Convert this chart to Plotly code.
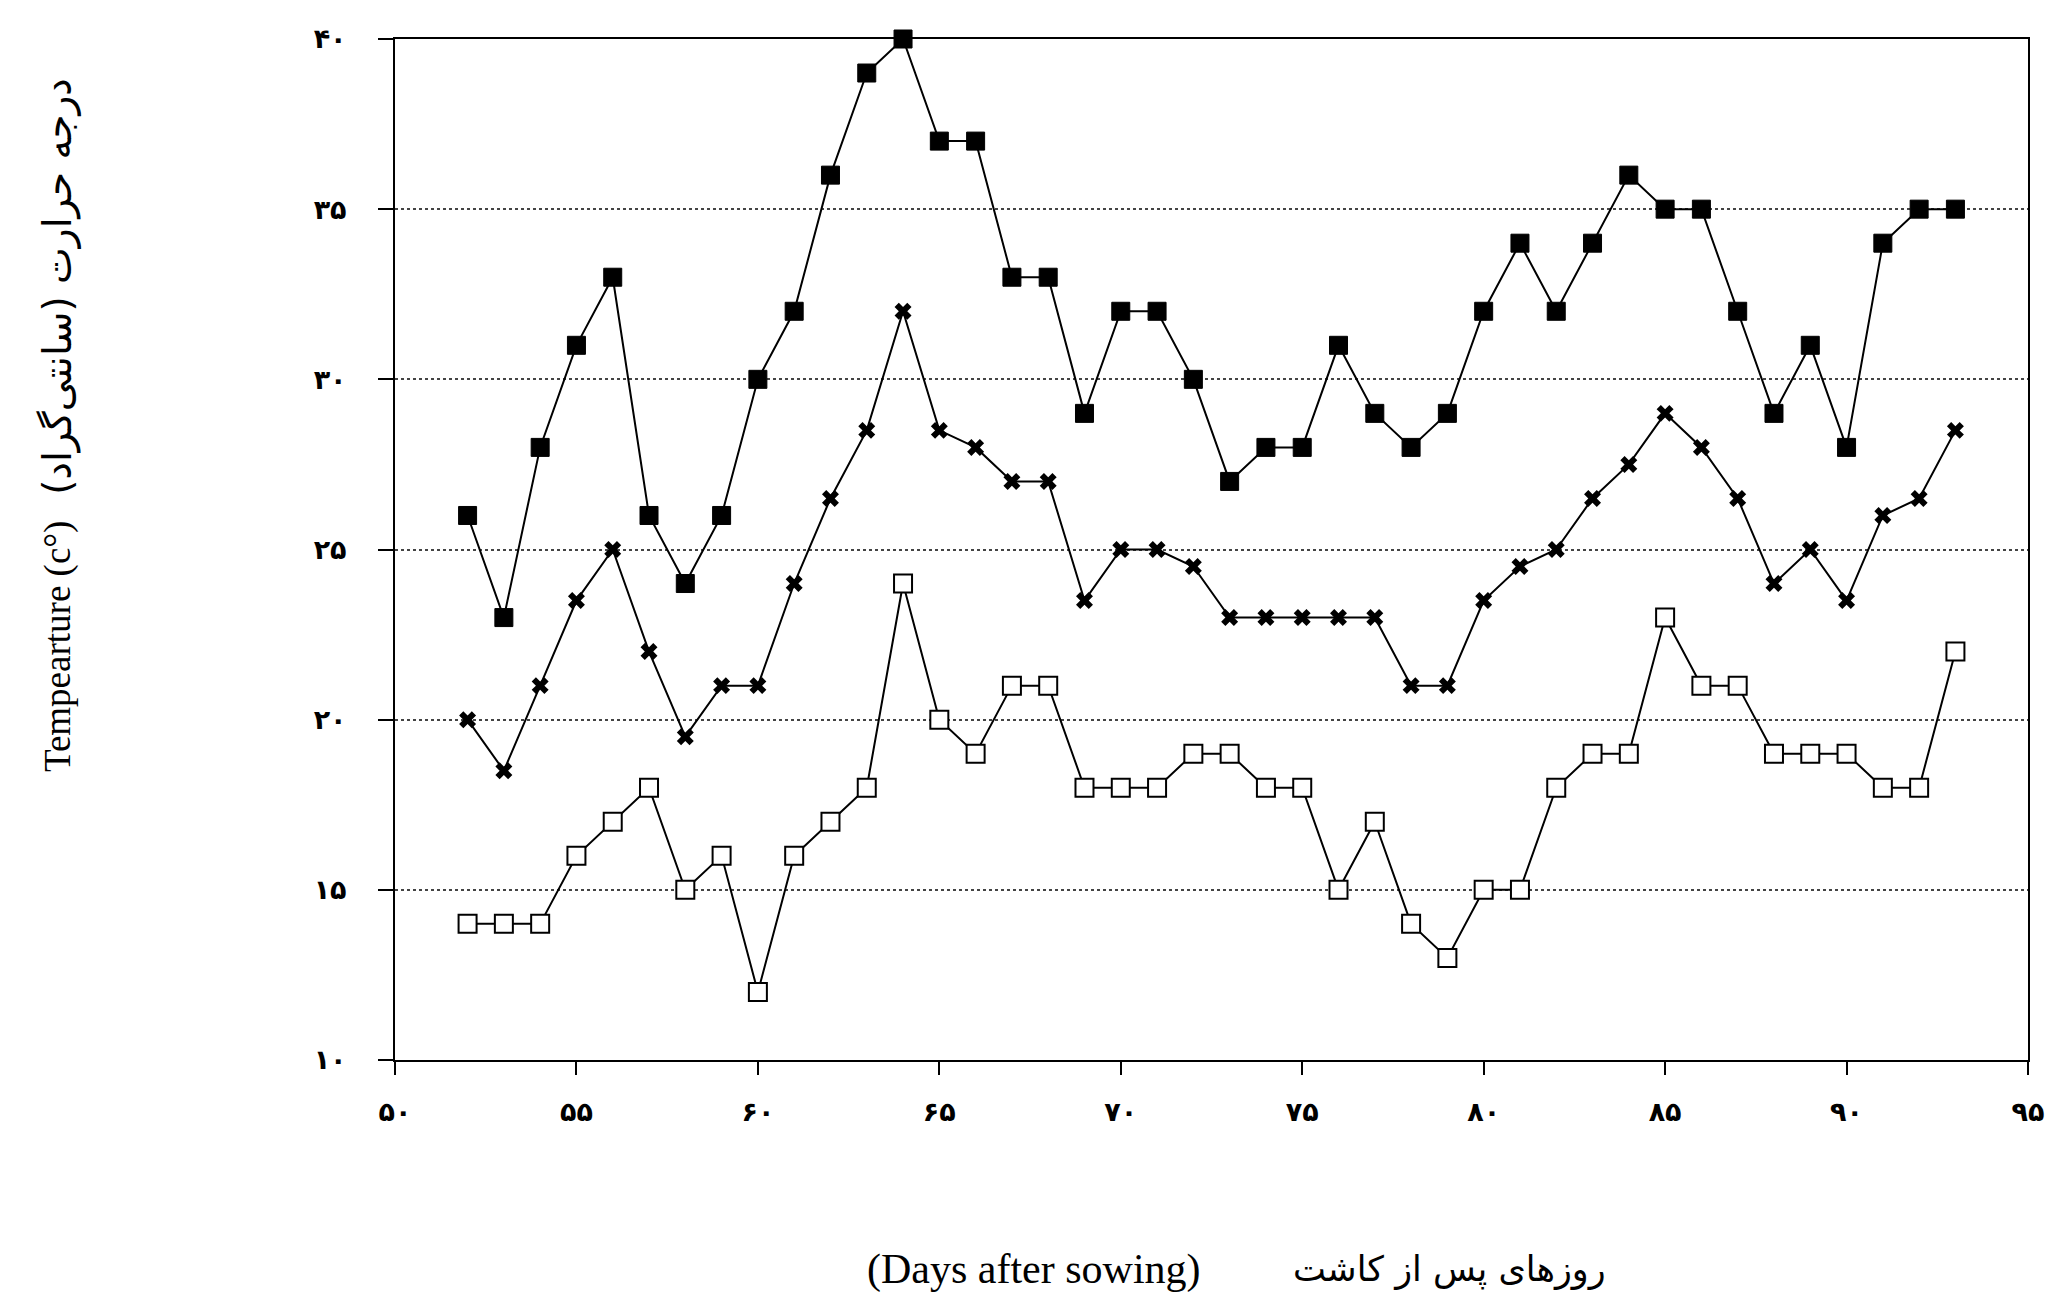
import plotly.graph_objects as go

days = list(range(52, 94))

t_max = [26, 23, 28, 31, 33, 26, 24, 26, 30, 32, 36, 39, 40, 37, 37, 33, 33, 29, 32, 32, 30,
         27, 28, 28, 31, 29, 28, 29, 32, 34, 32, 34, 36, 35, 35, 32, 29, 31, 28, 34, 35, 35]
t_mean = [20, 18.5, 21, 23.5, 25, 22, 19.5, 21, 21, 24, 26.5, 28.5, 32, 28.5, 28, 27, 27, 23.5, 25, 25, 24.5,
          23, 23, 23, 23, 23, 21, 21, 23.5, 24.5, 25, 26.5, 27.5, 29, 28, 26.5, 24, 25, 23.5, 26, 26.5, 28.5]
t_min = [14, 14, 14, 16, 17, 18, 15, 16, 12, 16, 17, 18, 24, 20, 19, 21, 21, 18, 18, 18, 19,
         19, 18, 18, 15, 17, 14, 13, 15, 15, 18, 19, 19, 23, 21, 21, 19, 19, 19, 18, 18, 22]

x_ticks = [50, 55, 60, 65, 70, 75, 80, 85, 90, 95]
x_labels = ["۵۰", "۵۵", "۶۰", "۶۵", "۷۰", "۷۵", "۸۰", "۸۵", "۹۰", "۹۵"]
y_ticks = [10, 15, 20, 25, 30, 35, 40]
y_labels = ["۱۰", "۱۵", "۲۰", "۲۵", "۳۰", "۳۵", "۴۰"]

fig = go.Figure()

fig.add_trace(go.Scatter(
    x=days, y=t_max, mode="lines+markers",
    line=dict(color="black", width=2),
    marker=dict(symbol="square", size=18, color="black", line=dict(color="black", width=1)),
    cliponaxis=False, showlegend=False))

fig.add_trace(go.Scatter(
    x=days, y=t_mean, mode="lines+markers",
    line=dict(color="black", width=2),
    marker=dict(symbol="x", size=15, color="black", line=dict(width=0)),
    cliponaxis=False, showlegend=False))

fig.add_trace(go.Scatter(
    x=days, y=t_min, mode="lines+markers",
    line=dict(color="black", width=2),
    marker=dict(symbol="square", size=18, color="white", line=dict(color="black", width=2)),
    cliponaxis=False, showlegend=False))

tickfont = dict(family="DejaVu Sans", size=27, color="black", weight="bold")

fig.update_xaxes(
    range=[50, 95], tickmode="array", tickvals=x_ticks, ticktext=x_labels,
    tickfont=tickfont, ticks="outside", ticklen=13, tickwidth=2, tickcolor="black",
    showline=True, linecolor="black", linewidth=2, mirror=True, automargin=False,
    showgrid=False, zeroline=False, ticklabelstandoff=14)

fig.update_yaxes(
    range=[10, 40], tickmode="array", tickvals=y_ticks, ticktext=y_labels,
    tickfont=tickfont, ticks="outside", ticklen=15, tickwidth=2, tickcolor="black",
    showline=True, linecolor="black", linewidth=2, mirror=True, automargin=False,
    showgrid=True, gridcolor="#444444", gridwidth=1.5, griddash="dot",
    zeroline=False, ticklabelstandoff=26)

fig.update_layout(
    width=2058, height=1293,
    margin=dict(l=387, r=38, t=31, b=241),
    paper_bgcolor="white", plot_bgcolor="white",
    annotations=[
        dict(text="Tempearture (c°)", xref="paper", yref="paper", x=-0.206, y=0.405,
             showarrow=False, textangle=-90, xanchor="center", yanchor="middle",
             font=dict(family="Liberation Serif", size=37, color="black")),
        dict(text="درجه حرارت (سانتی‌گراد)", xref="paper", yref="paper", x=-0.206, y=0.757,
             showarrow=False, textangle=-90, xanchor="center", yanchor="middle",
             font=dict(family="DejaVu Sans", size=39, color="black")),
        dict(text="(Days after sowing)", xref="paper", yref="paper", x=0.391, y=-0.205,
             showarrow=False, xanchor="center", yanchor="middle",
             font=dict(family="Liberation Serif", size=42, color="black")),
        dict(text="روزهای پس از کاشت", xref="paper", yref="paper", x=0.646, y=-0.205,
             showarrow=False, xanchor="center", yanchor="middle",
             font=dict(family="DejaVu Sans", size=35, color="black")),
    ],
)

fig.write_html("out.html")
